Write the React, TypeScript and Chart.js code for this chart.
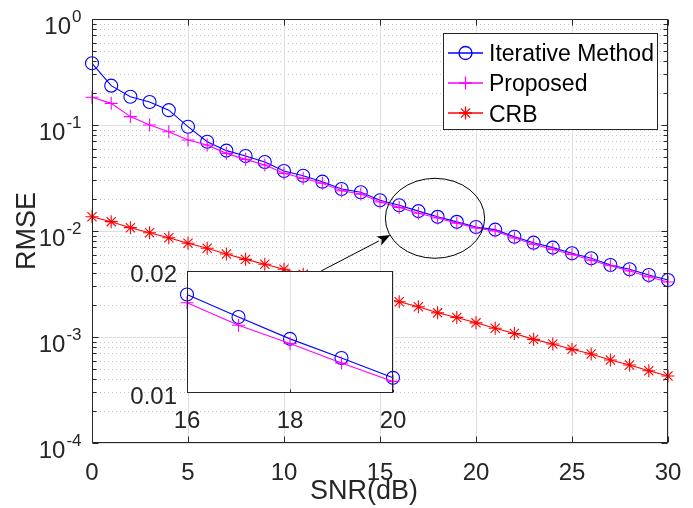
import React, { useEffect, useRef } from 'react';
import { Chart, registerables } from 'chart.js';

Chart.register(...registerables);

// ---------- data ----------
const snr = [0, 1, 2, 3, 4, 5, 6, 7, 8, 9, 10, 11, 12, 13, 14, 15, 16, 17, 18, 19, 20, 21, 22, 23, 24, 25, 26, 27, 28, 29, 30];
const iterative = [0.382, 0.235, 0.185, 0.165, 0.138, 0.0964, 0.0696, 0.0573, 0.051, 0.0448, 0.0368, 0.0332, 0.0292, 0.0249, 0.0232, 0.0195, 0.0175, 0.0154, 0.0136, 0.0122, 0.0109, 0.0103, 0.00884, 0.00776, 0.00697, 0.00616, 0.00553, 0.00478, 0.00435, 0.00385, 0.00345];
const proposed = [0.183, 0.16, 0.12, 0.1, 0.0865, 0.0722, 0.0648, 0.054, 0.0474, 0.042, 0.035, 0.0314, 0.0282, 0.024, 0.0223, 0.0188, 0.0167, 0.0147, 0.01325, 0.01186, 0.01068, 0.01, 0.0086, 0.0075, 0.0067, 0.006, 0.0053, 0.0047, 0.0042, 0.0037, 0.0033];
const crb = [0.01365, 0.01225, 0.01075, 0.00964, 0.00865, 0.00766, 0.00687, 0.00607, 0.0054, 0.00485, 0.00435, 0.0039, 0.0035, 0.0031, 0.0027, 0.0024, 0.00215, 0.00193, 0.00169, 0.00153, 0.00136, 0.00121, 0.00108, 0.00095, 0.00086, 0.000765, 0.000691, 0.000607, 0.000544, 0.000481, 0.000429];

const seriesLabels = ['Iterative Method', 'Proposed', 'CRB'];
const seriesColors = ['#0000ff', '#ff00ff', '#ff0000'];
const seriesMarkers = ['circle', 'cross', 'star'];

const xTicks = [0, 5, 10, 15, 20, 25, 30];
const yDecades = [1e-4, 1e-3, 1e-2, 1e-1, 1];
const yExponents = ['-4', '-3', '-2', '-1', '0'];
const yMinorFactors = [2, 3, 4, 5, 6, 7, 8, 9];
const xTitle = 'SNR(dB)';
const yTitle = 'RMSE';

// inset (zoom of SNR 16..20)
const insetFrom = 16;
const insetTo = 20;
const insetXTicks = [16, 18, 20];
const insetYTicks = [0.01, 0.02];
const insetYLabels = ['0.01', '0.02'];

// annotation (ellipse + arrow) in data units
const ellipseXRange = [15.28, 20.45];
const ellipseYRange = [0.00553, 0.0314];
const arrowFrom = [11.94, 0.0042];
const arrowTo = [15.54, 0.00917];

// ---------- style ----------
const FONT = '"Liberation Sans", Arial, Helvetica, sans-serif';
const TXT = '#262626';
const AXIS = '#262626';
const MAJOR_GRID = '#dfdfdf';
const MINOR_GRID = '#c4c4c4';

function drawMarker(ctx: CanvasRenderingContext2D, style: string, x: number, y: number, r: number, color: string, lw: number) {
  ctx.save();
  ctx.strokeStyle = color;
  ctx.lineWidth = lw;
  ctx.setLineDash([]);
  ctx.beginPath();
  if (style === 'circle') {
    ctx.arc(x, y, r, 0, Math.PI * 2);
  } else {
    ctx.moveTo(x - r, y); ctx.lineTo(x + r, y);
    ctx.moveTo(x, y - r); ctx.lineTo(x, y + r);
    if (style === 'star') {
      const d = r * Math.SQRT1_2;
      ctx.moveTo(x - d, y - d); ctx.lineTo(x + d, y + d);
      ctx.moveTo(x - d, y + d); ctx.lineTo(x + d, y - d);
    }
  }
  ctx.stroke();
  ctx.restore();
}

function hLine(ctx: CanvasRenderingContext2D, x1: number, x2: number, y: number) {
  const yy = Math.round(y) + 0.5;
  ctx.beginPath(); ctx.moveTo(x1, yy); ctx.lineTo(x2, yy); ctx.stroke();
}
function vLine(ctx: CanvasRenderingContext2D, x: number, y1: number, y2: number) {
  const xx = Math.round(x) + 0.5;
  ctx.beginPath(); ctx.moveTo(xx, y1); ctx.lineTo(xx, y2); ctx.stroke();
}

const mainPlugin = {
  id: 'mainDecor',
  beforeDatasetsDraw(chart: any) {
    const { ctx, chartArea: a } = chart;
    const xs = chart.scales.x, ys = chart.scales.y;
    ctx.save();
    ctx.lineWidth = 1;
    ctx.strokeStyle = MINOR_GRID;
    ctx.setLineDash([1, 3]);
    for (let i = 0; i < yDecades.length - 1; i++) {
      for (const f of yMinorFactors) {
        hLine(ctx, a.left, a.right, ys.getPixelForValue(yDecades[i] * f));
      }
    }
    ctx.setLineDash([]);
    ctx.strokeStyle = MAJOR_GRID;
    for (const d of yDecades) hLine(ctx, a.left, a.right, ys.getPixelForValue(d));
    for (const t of xTicks) vLine(ctx, xs.getPixelForValue(t), a.top, a.bottom);
    ctx.restore();
  },
  afterDatasetsDraw(chart: any) {
    const { ctx, chartArea: a } = chart;
    const xs = chart.scales.x, ys = chart.scales.y;
    ctx.save();
    // ellipse
    const ex1 = xs.getPixelForValue(ellipseXRange[0]);
    const ex2 = xs.getPixelForValue(ellipseXRange[1]);
    const ey1 = ys.getPixelForValue(ellipseYRange[1]);
    const ey2 = ys.getPixelForValue(ellipseYRange[0]);
    ctx.strokeStyle = '#000000';
    ctx.lineWidth = 1;
    ctx.beginPath();
    ctx.ellipse((ex1 + ex2) / 2, (ey1 + ey2) / 2, (ex2 - ex1) / 2, (ey2 - ey1) / 2, 0, 0, Math.PI * 2);
    ctx.stroke();
    // arrow
    const ax1 = xs.getPixelForValue(arrowFrom[0]);
    const ay1 = ys.getPixelForValue(arrowFrom[1]);
    const ax2 = xs.getPixelForValue(arrowTo[0]);
    const ay2 = ys.getPixelForValue(arrowTo[1]);
    const ang = Math.atan2(ay2 - ay1, ax2 - ax1);
    const hl = 13, hw = 5;
    const bx = ax2 - hl * Math.cos(ang), by = ay2 - hl * Math.sin(ang);
    ctx.beginPath(); ctx.moveTo(ax1, ay1); ctx.lineTo(bx, by); ctx.stroke();
    ctx.fillStyle = '#000000';
    ctx.beginPath();
    ctx.moveTo(ax2, ay2);
    ctx.lineTo(bx + hw * Math.sin(ang), by - hw * Math.cos(ang));
    ctx.lineTo(ax2 - hl * 0.75 * Math.cos(ang), ay2 - hl * 0.75 * Math.sin(ang));
    ctx.lineTo(bx - hw * Math.sin(ang), by + hw * Math.cos(ang));
    ctx.closePath();
    ctx.fill();

    // axes box
    ctx.strokeStyle = AXIS;
    ctx.lineWidth = 1;
    const L = Math.round(a.left) + 0.5, R = Math.round(a.right) - 0.5;
    const T = Math.round(a.top) + 0.5, B = Math.round(a.bottom) - 0.5;
    ctx.strokeRect(L, T, R - L, B - T);
    const majorLen = 6, minorLen = 4;
    for (const t of xTicks) {
      const px = Math.round(xs.getPixelForValue(t)) + 0.5;
      ctx.beginPath();
      ctx.moveTo(px, B); ctx.lineTo(px, B - majorLen);
      ctx.moveTo(px, T); ctx.lineTo(px, T + majorLen);
      ctx.stroke();
    }
    for (let i = 0; i < yDecades.length; i++) {
      const py = Math.round(ys.getPixelForValue(yDecades[i])) + 0.5;
      ctx.beginPath();
      ctx.moveTo(L, py); ctx.lineTo(L + majorLen, py);
      ctx.moveTo(R, py); ctx.lineTo(R - majorLen, py);
      ctx.stroke();
      if (i < yDecades.length - 1) {
        for (const f of yMinorFactors) {
          const pm = Math.round(ys.getPixelForValue(yDecades[i] * f)) + 0.5;
          ctx.beginPath();
          ctx.moveTo(L, pm); ctx.lineTo(L + minorLen, pm);
          ctx.moveTo(R, pm); ctx.lineTo(R - minorLen, pm);
          ctx.stroke();
        }
      }
    }
    // tick labels
    ctx.fillStyle = TXT;
    ctx.textBaseline = 'alphabetic';
    ctx.textAlign = 'center';
    ctx.font = '24px ' + FONT;
    for (const t of xTicks) {
      ctx.fillText(String(t), xs.getPixelForValue(t), a.bottom + 36.5);
    }
    ctx.textAlign = 'right';
    const labelRight = a.left - 10.5;
    for (let i = 0; i < yDecades.length; i++) {
      const py = ys.getPixelForValue(yDecades[i]);
      ctx.font = '17px ' + FONT;
      const ew = ctx.measureText(yExponents[i]).width;
      ctx.fillText(yExponents[i], labelRight, py + 3);
      ctx.font = '24px ' + FONT;
      ctx.fillText('10', labelRight - ew - 1, py + 15);
    }
    // axis titles
    ctx.font = '27px ' + FONT;
    ctx.textAlign = 'center';
    ctx.fillText(xTitle, (a.left + a.right) / 2 - 16, a.bottom + 56);
    ctx.save();
    ctx.translate(35, (a.top + a.bottom) / 2);
    ctx.rotate(-Math.PI / 2);
    ctx.fillText(yTitle, 0, 0);
    ctx.restore();

    // legend
    const lx = 443.5, ly = 33.5, lw = 214, lh = 96;
    ctx.fillStyle = '#ffffff';
    ctx.fillRect(lx, ly, lw, lh);
    ctx.strokeStyle = AXIS;
    ctx.lineWidth = 1;
    ctx.strokeRect(lx, ly, lw, lh);
    const baselines = [61, 91.3, 121.7];
    ctx.font = '23px ' + FONT;
    ctx.textAlign = 'left';
    for (let i = 0; i < seriesLabels.length; i++) {
      const cy = Math.round(baselines[i] - 8.5);
      ctx.strokeStyle = seriesColors[i];
      ctx.lineWidth = 1.3;
      ctx.beginPath(); ctx.moveTo(448, cy); ctx.lineTo(483, cy); ctx.stroke();
      drawMarker(ctx, seriesMarkers[i], 465.5, cy, 6.5, seriesColors[i], 1.3);
      ctx.fillStyle = '#000000';
      ctx.fillText(seriesLabels[i], 489, baselines[i]);
    }
    ctx.restore();
  },
};

const insetPlugin = {
  id: 'insetDecor',
  beforeDatasetsDraw(chart: any) {
    const { ctx, chartArea: a } = chart;
    const xs = chart.scales.x;
    ctx.save();
    ctx.fillStyle = '#ffffff';
    ctx.fillRect(a.left, a.top, a.right - a.left, a.bottom - a.top);
    ctx.strokeStyle = MAJOR_GRID;
    ctx.lineWidth = 1;
    for (const t of insetXTicks) vLine(ctx, xs.getPixelForValue(t), a.top, a.bottom);
    ctx.restore();
  },
  afterDatasetsDraw(chart: any) {
    const { ctx, chartArea: a } = chart;
    const xs = chart.scales.x, ys = chart.scales.y;
    ctx.save();
    ctx.strokeStyle = '#262626';
    ctx.lineWidth = 1;
    const L = Math.round(a.left) + 0.5, R = Math.round(a.right) - 0.5;
    const T = Math.round(a.top) + 0.5, B = Math.round(a.bottom) - 0.5;
    ctx.strokeRect(L, T, R - L, B - T);
    for (const t of insetXTicks) {
      const px = Math.round(xs.getPixelForValue(t)) + 0.5;
      ctx.beginPath(); ctx.moveTo(px, B); ctx.lineTo(px, B - 3); ctx.stroke();
    }
    ctx.fillStyle = TXT;
    ctx.font = '24px ' + FONT;
    ctx.textAlign = 'center';
    ctx.textBaseline = 'alphabetic';
    for (const t of insetXTicks) ctx.fillText(String(t), xs.getPixelForValue(t), a.bottom + 35);
    ctx.textAlign = 'right';
    for (let i = 0; i < insetYTicks.length; i++) {
      ctx.fillText(insetYLabels[i], a.left - 10, ys.getPixelForValue(insetYTicks[i]) + 10.5);
    }
    ctx.restore();
  },
};

function makeDataset(i: number, values: number[], xsArr: number[], order: number) {
  return {
    label: seriesLabels[i],
    data: xsArr.map((x, k) => ({ x, y: values[k] })),
    borderColor: seriesColors[i],
    backgroundColor: 'rgba(0,0,0,0)',
    borderWidth: 1.1,
    pointStyle: seriesMarkers[i],
    pointRadius: 6.5,
    pointBorderWidth: 1.1,
    pointBorderColor: seriesColors[i],
    pointBackgroundColor: 'rgba(0,0,0,0)',
    tension: 0,
    clip: false,
    order,
  };
}

export default function App() {
  const mainRef = useRef<HTMLCanvasElement>(null);
  const insetRef = useRef<HTMLCanvasElement>(null);

  useEffect(() => {
    const main = new Chart(mainRef.current as HTMLCanvasElement, {
      type: 'line',
      data: {
        datasets: [
          makeDataset(0, iterative, snr, 3),
          makeDataset(1, proposed, snr, 2),
          makeDataset(2, crb, snr, 1),
        ] as any,
      },
      options: {
        responsive: false,
        animation: false,
        devicePixelRatio: 1,
        layout: { padding: { top: 19, right: 25, left: 0, bottom: 0 } },
        plugins: { legend: { display: false }, tooltip: { enabled: false } },
        scales: {
          x: {
            type: 'linear', min: 0, max: 30,
            ticks: { display: false, stepSize: 5 },
            grid: { display: false },
            border: { display: false },
            afterFit: (s: any) => { s.height = 65; },
          },
          y: {
            type: 'logarithmic', min: 1e-4, max: 1,
            ticks: { display: false },
            grid: { display: false },
            border: { display: false },
            afterFit: (s: any) => { s.width = 92; },
          },
        },
      } as any,
      plugins: [mainPlugin],
    });

    const i0 = snr.indexOf(insetFrom);
    const i1 = snr.indexOf(insetTo) + 1;
    const insetSnr = snr.slice(i0, i1);
    const inset = new Chart(insetRef.current as HTMLCanvasElement, {
      type: 'line',
      data: {
        datasets: [
          makeDataset(0, iterative.slice(i0, i1), insetSnr, 2),
          makeDataset(1, proposed.slice(i0, i1), insetSnr, 1),
        ] as any,
      },
      options: {
        responsive: false,
        animation: false,
        devicePixelRatio: 1,
        layout: { padding: { top: 21, right: 27, left: 0, bottom: 0 } },
        plugins: { legend: { display: false }, tooltip: { enabled: false } },
        scales: {
          x: {
            type: 'linear', min: insetFrom, max: insetTo,
            ticks: { display: false },
            grid: { display: false },
            border: { display: false },
            afterFit: (s: any) => { s.height = 47; },
          },
          y: {
            type: 'logarithmic', min: insetYTicks[0], max: insetYTicks[1],
            ticks: { display: false },
            grid: { display: false },
            border: { display: false },
            afterFit: (s: any) => { s.width = 67; },
          },
        },
      } as any,
      plugins: [insetPlugin],
    });

    return () => {
      main.destroy();
      inset.destroy();
    };
  }, []);

  return (
    <div style={{ position: 'fixed', left: 0, top: 0, width: 693, height: 508, background: '#ffffff' }}>
      <canvas ref={mainRef} width={693} height={508} style={{ position: 'absolute', left: 0, top: 0, width: 693, height: 508 }} />
      <canvas ref={insetRef} width={300} height={190} style={{ position: 'absolute', left: 120, top: 250, width: 300, height: 190 }} />
    </div>
  );
}
